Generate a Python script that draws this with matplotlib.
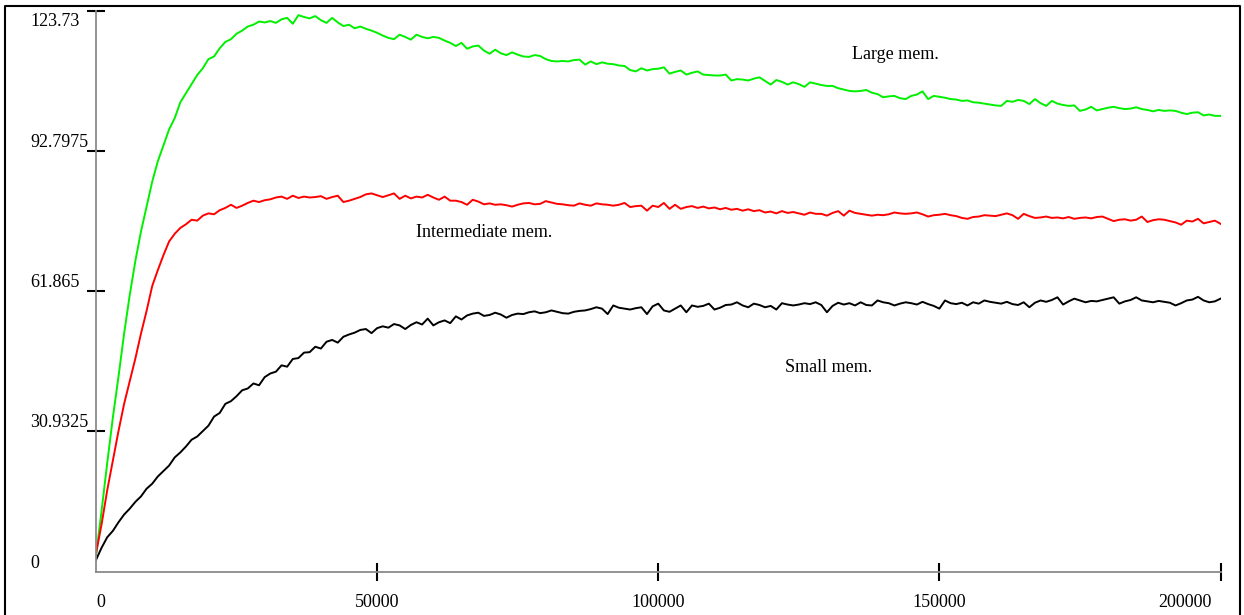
import numpy as np
import matplotlib
matplotlib.use("Agg")
import matplotlib.pyplot as plt
from matplotlib.lines import Line2D
from matplotlib import transforms

# samples every 1000 steps, 0..200000
steps = np.arange(0, 200001, 1000)

large_mem = [
    3.5, 13.5, 24.0, 34.0, 43.0, 52.5, 61.0, 68.5, 75.0, 80.5,
    86.0, 90.5, 94.0, 97.5, 100.0, 103.5, 105.5, 107.5, 109.5, 111.0,
    113.0, 113.6, 115.4, 116.8, 117.4, 118.6, 119.3, 120.2, 120.6, 121.3,
    121.1, 121.4, 121.0, 121.8, 122.1, 120.8, 122.7, 122.3, 122.0, 122.5,
    121.6, 121.0, 122.1, 121.1, 120.3, 120.6, 119.8, 120.2, 119.7, 119.3,
    118.8, 118.2, 117.7, 117.4, 118.4, 117.9, 117.3, 118.4, 117.9, 117.6,
    117.9, 117.7, 117.1, 116.6, 115.9, 116.6, 115.3, 115.8, 116.0, 114.9,
    114.2, 115.1, 114.3, 113.9, 114.5, 114.0, 113.6, 113.5, 113.9, 113.7,
    113.0, 112.6, 112.5, 112.6, 112.5, 112.8, 112.9, 111.8, 112.5, 111.9,
    112.3, 112.0, 111.9, 111.6, 111.5, 110.6, 110.3, 111.0, 110.5, 110.8,
    110.9, 111.2, 109.8, 110.2, 110.5, 109.6, 110.0, 110.3, 109.6, 109.5,
    109.4, 109.4, 109.6, 108.3, 108.6, 108.5, 108.3, 108.7, 109.0, 108.2,
    107.4, 108.4, 108.0, 107.4, 107.9, 107.5, 106.9, 107.9, 107.6, 107.3,
    107.1, 107.1, 106.6, 106.3, 106.0, 105.9, 106.0, 106.2, 105.6, 105.3,
    104.6, 104.8, 104.9, 104.4, 104.2, 104.9, 105.2, 105.9, 104.2, 104.9,
    104.7, 104.5, 104.2, 104.1, 103.8, 103.9, 103.5, 103.4, 103.2, 103.0,
    102.8, 102.7, 103.8, 103.6, 104.0, 103.8, 103.1, 104.2, 103.3, 102.7,
    103.8, 103.2, 102.9, 102.7, 102.8, 101.6, 101.9, 102.5, 101.7, 102.0,
    102.3, 102.5, 102.2, 102.0, 102.1, 102.4, 102.0, 101.8, 101.5, 101.8,
    101.6, 101.7, 101.6, 101.2, 100.9, 101.2, 101.3, 100.6, 100.8, 100.5,
    100.5,
]

intermediate_mem = [
    4.0, 10.5, 18.0, 24.5, 31.0, 37.0, 42.0, 47.0, 52.5, 57.5,
    63.0, 66.5, 69.8, 72.8, 74.5, 75.8, 76.6, 77.6, 77.4, 78.5,
    79.0, 78.8, 79.7, 80.2, 80.9, 80.2, 80.7, 81.3, 81.8, 81.5,
    81.9, 82.1, 82.5, 82.7, 82.2, 82.9, 82.4, 82.7, 82.5, 82.6,
    82.8, 82.2, 82.6, 82.9, 81.5, 81.8, 82.2, 82.6, 83.2, 83.4,
    83.0, 82.6, 83.0, 83.4, 82.2, 82.9, 82.3, 82.7, 82.5, 83.1,
    82.5, 82.0, 82.7, 81.8, 81.8, 81.5, 80.9, 82.0, 81.6, 81.0,
    81.2, 80.9, 81.0, 80.8, 80.5, 80.9, 81.2, 81.3, 81.0, 81.1,
    81.7, 81.4, 81.1, 81.0, 80.8, 80.7, 81.2, 80.9, 80.7, 81.2,
    81.0, 80.9, 80.7, 80.9, 81.3, 80.4, 80.6, 80.7, 79.6, 80.7,
    80.4, 81.3, 80.0, 80.9, 80.0, 80.4, 80.6, 80.2, 80.5, 80.1,
    80.3, 79.9, 80.2, 79.8, 80.0, 79.6, 79.9, 79.5, 79.7, 79.2,
    79.4, 79.0, 79.5, 79.1, 79.3, 79.0, 78.7, 79.2, 78.9, 78.9,
    78.5, 79.1, 79.5, 78.5, 79.6, 79.1, 78.9, 78.7, 78.5, 78.7,
    78.6, 78.8, 79.2, 79.0, 78.9, 79.0, 79.2, 78.8, 78.3, 78.6,
    78.7, 78.9, 78.6, 78.4, 78.0, 77.8, 78.2, 78.3, 78.6, 78.5,
    78.4, 78.7, 79.0, 78.6, 77.8, 78.9, 78.4, 78.0, 78.1, 78.3,
    78.0, 78.1, 77.9, 78.2, 77.8, 78.0, 78.1, 77.9, 78.2, 78.3,
    77.8, 77.3, 77.6, 77.7, 77.4, 77.6, 78.3, 77.1, 77.5, 77.7,
    77.6, 77.3, 77.0, 76.5, 77.4, 77.2, 77.8, 76.8, 77.1, 77.4,
    76.7,
]

small_mem = [
    2.6, 5.3, 7.6, 9.0, 10.9, 12.6, 13.9, 15.4, 16.6, 18.3,
    19.4, 21.0, 22.2, 23.4, 25.2, 26.3, 27.6, 29.1, 29.8, 31.0,
    32.2, 34.2, 35.0, 37.0, 37.6, 38.7, 40.0, 40.4, 41.5, 41.1,
    42.9, 43.7, 44.1, 45.5, 45.2, 46.9, 47.1, 48.3, 48.4, 49.6,
    49.2, 50.7, 51.1, 50.5, 51.8, 52.3, 52.7, 53.3, 53.5, 52.6,
    53.7, 54.1, 53.8, 54.6, 54.3, 53.5, 54.4, 55.0, 54.5, 55.8,
    54.3, 55.0, 55.4, 54.8, 56.3, 55.6, 56.5, 56.9, 57.1, 56.4,
    56.6, 57.1, 56.7, 56.0, 56.6, 56.9, 56.8, 57.2, 57.4, 57.0,
    57.2, 57.6, 57.3, 57.0, 56.9, 57.3, 57.5, 57.6, 57.9, 58.3,
    58.0, 56.8, 58.7, 58.2, 58.0, 57.8, 58.1, 58.3, 56.8, 58.5,
    59.1, 57.6, 57.3, 58.0, 58.7, 57.2, 58.7, 58.4, 58.6, 59.1,
    57.8, 58.2, 58.8, 58.9, 59.4, 58.7, 58.3, 59.1, 58.8, 58.3,
    58.6, 57.8, 59.2, 58.9, 58.7, 58.9, 59.2, 59.0, 59.4, 58.8,
    57.2, 58.6, 59.3, 58.9, 59.2, 58.7, 59.4, 58.8, 58.7, 59.8,
    59.4, 59.2, 58.7, 59.1, 59.4, 59.2, 58.9, 59.5, 59.0, 58.6,
    58.0, 59.8, 59.2, 59.0, 59.3, 58.7, 59.4, 59.1, 59.8, 59.5,
    59.3, 59.1, 59.5, 59.0, 58.8, 59.4, 58.3, 59.3, 59.8, 59.5,
    59.9, 60.5, 58.9, 59.6, 60.2, 59.8, 59.4, 59.7, 59.6, 59.9,
    60.2, 60.5, 59.1, 59.6, 59.9, 60.5, 59.8, 59.6, 59.4, 59.7,
    59.5, 59.3, 58.7, 59.2, 59.8, 60.0, 60.6, 59.8, 59.4, 59.6,
    60.2,
]

y_ticks = [0, 30.9325, 61.865, 92.7975, 123.73]
y_labels = ["0", "30.9325", "61.865", "92.7975", "123.73"]
x_ticks = [0, 50000, 100000, 150000, 200000]
x_labels = ["0", "50000", "100000", "150000", "200000"]

# curve labels: (text, x, y)
curve_labels = [
    ("Large mem.", 134500, 114.0),
    ("Intermediate mem.", 56900, 74.8),
    ("Small mem.", 122600, 45.1),
]

plt.rcParams["font.family"] = ["Liberation Serif", "DejaVu Serif"]
W, H = 1244, 615
fig = plt.figure(figsize=(W / 100, H / 100), dpi=100)
ax = fig.add_axes([96 / W, 1 - 571.7 / H, (1220.5 - 96) / W, (571.7 - 10.5) / H])

ax.plot(steps, large_mem, color="#00f000", lw=1.4)
ax.plot(steps, intermediate_mem, color="#ff0000", lw=1.4)
ax.plot(steps, small_mem, color="black", lw=1.4)

ax.set_xlim(0, 200000)
ax.set_ylim(0, 123.73)

for side in ("top", "right"):
    ax.spines[side].set_visible(False)
for side in ("left", "bottom"):
    ax.spines[side].set_color("#8a8a8a")
    ax.spines[side].set_linewidth(1.3)

# tick marks only away from the origin
ax.set_xticks(x_ticks[1:])
ax.set_yticks(y_ticks[1:])
ax.set_xticklabels([])
ax.set_yticklabels([])
ax.tick_params(direction="inout", length=13.5, width=1.5, color="black")

# tick labels drawn by hand: y labels left aligned at the frame side
ylab_trans = transforms.blended_transform_factory(fig.transFigure, ax.transData)
for v, lab in zip(y_ticks, y_labels):
    dy = -16 if v == y_ticks[-1] else 4
    tr = transforms.offset_copy(ylab_trans, fig=fig, x=0, y=dy, units="dots")
    ax.text(30 / W, v, lab, transform=tr, ha="left", va="baseline",
            fontsize=13, clip_on=False)

xlab_trans = ax.get_xaxis_transform()
for i, (v, lab) in enumerate(zip(x_ticks, x_labels)):
    ha, dx = "center", 0
    if i == 0:
        ha = "left"
    elif i == len(x_ticks) - 1:
        ha, dx = "right", -9
    tr = transforms.offset_copy(xlab_trans, fig=fig, x=dx, y=-35, units="dots")
    ax.text(v, 0, lab, transform=tr, ha=ha, va="baseline",
            fontsize=13, clip_on=False)

for text, x, y in curve_labels:
    ax.text(x, y, text, ha="left", va="center", fontsize=13)

# outer frame (bottom edge falls outside the image)
x0, x1, yt = 5 / W, 1240 / W, 1 - 6 / H
fig.add_artist(Line2D([x0, x0, x1, x1], [0, yt, yt, 0],
                      transform=fig.transFigure, color="black", lw=1.5))

fig.savefig("out.png", dpi=100)
